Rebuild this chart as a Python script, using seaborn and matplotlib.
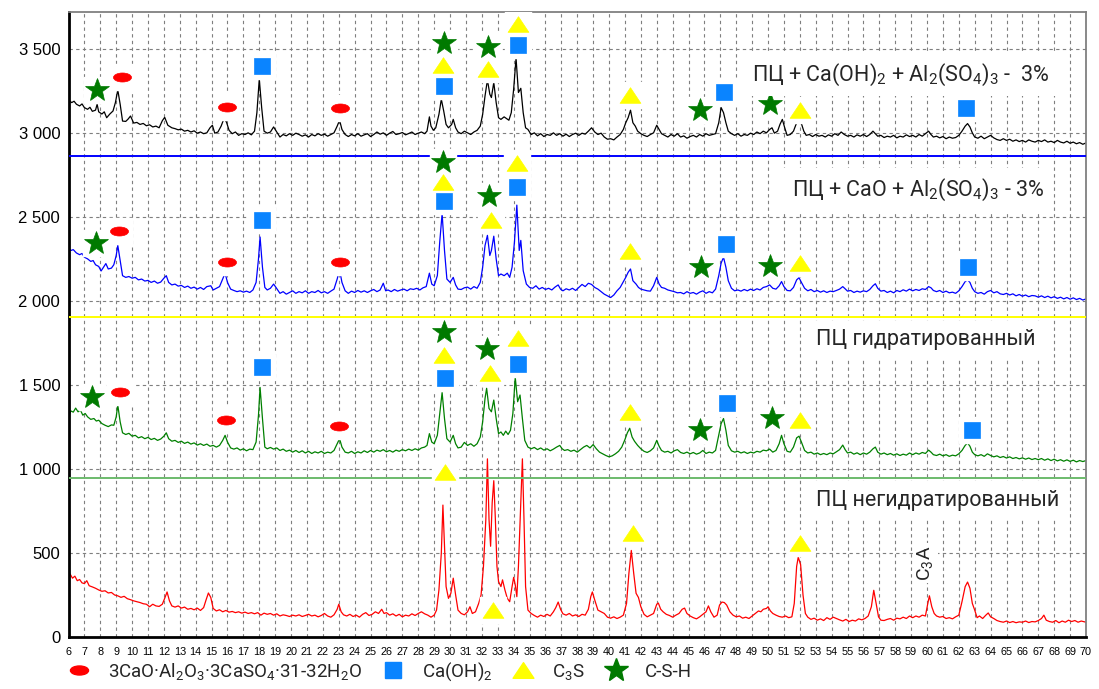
import matplotlib
matplotlib.use("Agg")
import matplotlib.pyplot as plt
import matplotlib.ticker as mticker
from matplotlib.lines import Line2D
from matplotlib.path import Path
from matplotlib.transforms import Affine2D
import pandas as pd
import seaborn as sns

sns.set_style("white")
plt.rcParams['font.family'] = ['Roboto', 'DejaVu Sans']
plt.rcParams['mathtext.fontset'] = 'custom'
plt.rcParams['mathtext.rm'] = 'Roboto'
plt.rcParams['mathtext.it'] = 'Roboto:italic'
plt.rcParams['mathtext.bf'] = 'Roboto:bold'

# Diffractograms: (2 theta, intensity)
BLACK_PTS = [
    (6.0, 3195), (6.2, 3180), (6.35, 3188), (6.5, 3170), (6.7, 3160), (6.85, 3172), (7.0, 3150), (7.2, 3140),
    (7.35, 3152), (7.5, 3128), (7.7, 3135), (7.8, 3170), (7.9, 3125), (8.1, 3112), (8.25, 3125), (8.4, 3090),
    (8.6, 3112), (8.8, 3130), (8.95, 3180), (9.1, 3255), (9.25, 3170), (9.4, 3070), (9.6, 3068), (9.75, 3082),
    (9.9, 3100), (10.1, 3058), (10.3, 3062), (10.5, 3050), (10.7, 3056), (10.9, 3042), (11.1, 3048), (11.3, 3035),
    (11.5, 3040), (11.7, 3030), (11.9, 3072), (12.05, 3092), (12.25, 3045), (12.5, 3030), (12.7, 3025), (12.9, 3018),
    (13.1, 3022), (13.3, 3010), (13.5, 3015), (13.7, 3005), (13.9, 3012), (14.1, 2998), (14.3, 3005), (14.5, 2995),
    (14.7, 3000), (14.9, 3030), (15.05, 3045), (15.2, 2998), (15.4, 3005), (15.6, 3040), (15.8, 3090), (15.95, 3060),
    (16.1, 3015), (16.3, 2995), (16.5, 3005), (16.7, 2985), (16.9, 2995), (17.1, 2990), (17.3, 3000), (17.5, 2988),
    (17.7, 3010), (17.85, 3120), (18.0, 3320), (18.15, 3150), (18.3, 3010), (18.5, 2998), (18.7, 3005), (18.9, 3035),
    (19.1, 3005), (19.3, 2975), (19.5, 2990), (19.7, 2982), (19.9, 2995), (20.1, 2985), (20.3, 2998), (20.5, 2990),
    (20.7, 2980), (20.9, 2988), (21.1, 2975), (21.3, 2990), (21.5, 2982), (21.7, 2995), (21.9, 2985), (22.1, 2992),
    (22.3, 2980), (22.5, 2990), (22.7, 3000), (22.9, 3040), (23.05, 3075), (23.2, 3020), (23.4, 2990), (23.6, 2978),
    (23.8, 2990), (24.0, 2982), (24.2, 2995), (24.4, 2980), (24.6, 2988), (24.8, 2995), (25.0, 2978), (25.2, 2990),
    (25.4, 3005), (25.6, 2992), (25.8, 3000), (26.0, 2985), (26.2, 2998), (26.4, 3008), (26.6, 2990), (26.8, 2995),
    (27.0, 3002), (27.2, 2988), (27.4, 2996), (27.6, 3005), (27.8, 2990), (28.0, 2998), (28.2, 3005), (28.4, 2995),
    (28.55, 3010), (28.7, 3095), (28.8, 3040), (28.95, 3015), (29.1, 3030), (29.3, 3110), (29.45, 3200), (29.6, 3130),
    (29.75, 3050), (29.9, 3030), (30.1, 3050), (30.2, 3080), (30.35, 3030), (30.5, 3005), (30.7, 2995), (30.9, 3010),
    (31.1, 3000), (31.3, 2990), (31.5, 3005), (31.7, 3015), (31.9, 3040), (32.05, 3110), (32.2, 3220), (32.35, 3315),
    (32.5, 3230), (32.6, 3210), (32.75, 3300), (32.9, 3180), (33.05, 3090), (33.2, 3080), (33.4, 3095), (33.55, 3085),
    (33.7, 3075), (33.85, 3120), (34.0, 3260), (34.15, 3445), (34.3, 3240), (34.45, 3265), (34.6, 3120), (34.75, 3030),
    (34.9, 3020), (35.1, 2990), (35.3, 3000), (35.5, 2982), (35.7, 2995), (35.9, 2978), (36.1, 2990), (36.3, 2985),
    (36.5, 3000), (36.7, 2985), (36.9, 2995), (37.1, 2980), (37.3, 2992), (37.5, 2978), (37.7, 2990), (37.9, 2998),
    (38.1, 2985), (38.3, 2998), (38.5, 2992), (38.7, 3010), (38.9, 3030), (39.1, 3005), (39.3, 2990), (39.5, 2998),
    (39.7, 2975), (39.9, 2962), (40.1, 2965), (40.3, 2958), (40.5, 2975), (40.7, 2990), (40.9, 3020), (41.05, 3060),
    (41.2, 3090), (41.35, 3135), (41.5, 3060), (41.65, 3040), (41.8, 3010), (42.0, 2995), (42.2, 2985), (42.4, 2978),
    (42.6, 2990), (42.8, 3000), (43.0, 3045), (43.15, 3020), (43.3, 2995), (43.5, 2985), (43.7, 2975), (43.9, 2990),
    (44.1, 2980), (44.3, 2995), (44.5, 2975), (44.7, 2982), (44.9, 2968), (45.1, 2978), (45.3, 2985), (45.5, 2975),
    (45.7, 2990), (45.9, 2980), (46.1, 2995), (46.3, 2985), (46.5, 2990), (46.7, 2995), (46.9, 3060), (47.05, 3150),
    (47.2, 3120), (47.35, 3060), (47.5, 3010), (47.7, 2995), (47.9, 2985), (48.1, 2995), (48.3, 2980), (48.5, 2990),
    (48.7, 2985), (48.9, 2998), (49.1, 2990), (49.3, 3005), (49.5, 2995), (49.7, 3010), (49.9, 3000), (50.1, 3020),
    (50.25, 3030), (50.4, 2998), (50.6, 3010), (50.75, 3050), (50.9, 3080), (51.05, 3030), (51.2, 2985), (51.4, 2990),
    (51.6, 3010), (51.8, 3060), (51.95, 3065), (52.1, 3055), (52.25, 3010), (52.4, 2985), (52.6, 2990), (52.8, 2978),
    (53.0, 2990), (53.2, 2980), (53.4, 2985), (53.6, 2975), (53.8, 2988), (54.0, 2980), (54.2, 2995), (54.4, 2985),
    (54.6, 3005), (54.8, 2990), (55.0, 2980), (55.2, 2985), (55.4, 2975), (55.6, 2988), (55.8, 2980), (56.0, 2990),
    (56.2, 2978), (56.4, 2990), (56.6, 3010), (56.75, 2995), (56.9, 2980), (57.1, 2985), (57.3, 2972), (57.5, 2980),
    (57.7, 2975), (57.9, 2985), (58.1, 2970), (58.3, 2980), (58.5, 2975), (58.7, 2988), (58.9, 2978), (59.1, 2985),
    (59.3, 2975), (59.5, 2990), (59.7, 2980), (59.9, 2995), (60.1, 3010), (60.25, 2990), (60.4, 2975), (60.6, 2980),
    (60.8, 2970), (61.0, 2978), (61.2, 2965), (61.4, 2975), (61.6, 2968), (61.8, 2972), (62.0, 2985), (62.2, 3010),
    (62.4, 3040), (62.55, 3055), (62.7, 3035), (62.85, 3000), (63.0, 2975), (63.2, 2968), (63.4, 2980), (63.6, 2965),
    (63.8, 2975), (64.0, 2985), (64.2, 2970), (64.4, 2960), (64.6, 2955), (64.8, 2965), (65.0, 2955), (65.2, 2962),
    (65.4, 2950), (65.6, 2958), (65.8, 2948), (66.0, 2955), (66.2, 2945), (66.4, 2958), (66.6, 2950), (66.8, 2945),
    (67.0, 2955), (67.2, 2948), (67.4, 2958), (67.6, 2945), (67.8, 2950), (68.0, 2942), (68.2, 2955), (68.4, 2945),
    (68.6, 2940), (68.8, 2950), (69.0, 2938), (69.2, 2945), (69.4, 2935), (69.6, 2942), (69.8, 2932), (70.0, 2940),
]

BLUE_PTS = [
    (6.0, 2315), (6.15, 2300), (6.3, 2305), (6.5, 2285), (6.7, 2275), (6.85, 2282), (7.0, 2260), (7.2, 2250),
    (7.4, 2235), (7.55, 2240), (7.7, 2215), (7.9, 2205), (8.05, 2178), (8.2, 2200), (8.35, 2222), (8.5, 2190),
    (8.7, 2195), (8.85, 2215), (9.0, 2270), (9.1, 2330), (9.25, 2240), (9.4, 2150), (9.6, 2140), (9.8, 2145),
    (10.0, 2135), (10.2, 2140), (10.4, 2125), (10.6, 2130), (10.8, 2118), (11.0, 2122), (11.2, 2110), (11.4, 2118),
    (11.6, 2105), (11.8, 2112), (12.0, 2135), (12.15, 2150), (12.3, 2110), (12.5, 2095), (12.7, 2100), (12.9, 2088),
    (13.1, 2092), (13.3, 2080), (13.5, 2088), (13.7, 2075), (13.9, 2082), (14.1, 2070), (14.3, 2080), (14.5, 2068),
    (14.7, 2085), (14.95, 2090), (15.1, 2065), (15.3, 2075), (15.5, 2085), (15.7, 2130), (15.85, 2165), (16.0, 2110),
    (16.2, 2070), (16.4, 2062), (16.6, 2055), (16.8, 2060), (17.0, 2052), (17.2, 2058), (17.4, 2050), (17.6, 2065),
    (17.8, 2110), (17.95, 2250), (18.05, 2380), (18.2, 2200), (18.35, 2080), (18.5, 2065), (18.7, 2075), (18.9, 2100),
    (19.05, 2080), (19.3, 2045), (19.5, 2055), (19.7, 2040), (19.9, 2050), (20.1, 2060), (20.3, 2045), (20.5, 2055),
    (20.7, 2048), (20.9, 2060), (21.1, 2045), (21.3, 2055), (21.5, 2050), (21.7, 2062), (21.9, 2048), (22.1, 2055),
    (22.3, 2045), (22.5, 2058), (22.7, 2070), (22.9, 2130), (23.05, 2185), (23.2, 2110), (23.4, 2060), (23.6, 2045),
    (23.8, 2058), (24.0, 2050), (24.2, 2062), (24.4, 2052), (24.6, 2060), (24.8, 2050), (25.0, 2060), (25.2, 2068),
    (25.4, 2055), (25.6, 2065), (25.8, 2105), (25.95, 2060), (26.1, 2065), (26.3, 2055), (26.5, 2068), (26.7, 2058),
    (26.9, 2065), (27.1, 2070), (27.3, 2060), (27.5, 2072), (27.7, 2068), (27.9, 2075), (28.1, 2065), (28.3, 2078),
    (28.5, 2085), (28.7, 2165), (28.85, 2100), (29.0, 2090), (29.2, 2150), (29.35, 2350), (29.5, 2520), (29.65, 2300),
    (29.8, 2130), (30.0, 2110), (30.2, 2140), (30.35, 2095), (30.5, 2070), (30.7, 2068), (30.9, 2078), (31.1, 2082),
    (31.3, 2070), (31.5, 2085), (31.7, 2075), (31.9, 2110), (32.05, 2200), (32.2, 2330), (32.35, 2390), (32.5, 2270),
    (32.6, 2300), (32.75, 2385), (32.9, 2250), (33.05, 2150), (33.2, 2160), (33.4, 2150), (33.6, 2165), (33.75, 2140),
    (33.9, 2200), (34.05, 2350), (34.2, 2570), (34.35, 2300), (34.45, 2360), (34.6, 2180), (34.8, 2100), (35.0, 2080),
    (35.2, 2075), (35.4, 2090), (35.6, 2070), (35.8, 2080), (36.0, 2068), (36.2, 2075), (36.4, 2065), (36.6, 2082),
    (36.8, 2095), (36.95, 2070), (37.1, 2060), (37.3, 2072), (37.5, 2065), (37.7, 2075), (37.9, 2062), (38.1, 2080),
    (38.3, 2098), (38.5, 2085), (38.7, 2105), (38.9, 2098), (39.1, 2080), (39.3, 2070), (39.5, 2055), (39.7, 2040),
    (39.9, 2030), (40.1, 2020), (40.3, 2035), (40.5, 2060), (40.7, 2080), (40.9, 2115), (41.05, 2140), (41.2, 2170),
    (41.35, 2190), (41.5, 2120), (41.7, 2100), (41.85, 2080), (42.0, 2070), (42.2, 2065), (42.4, 2060), (42.6, 2058),
    (42.8, 2090), (43.0, 2140), (43.15, 2100), (43.3, 2080), (43.5, 2075), (43.7, 2065), (43.9, 2060), (44.1, 2055),
    (44.3, 2048), (44.5, 2050), (44.7, 2042), (44.9, 2055), (45.1, 2045), (45.3, 2050), (45.5, 2040), (45.7, 2052),
    (45.9, 2060), (46.1, 2045), (46.3, 2055), (46.5, 2048), (46.7, 2070), (46.9, 2150), (47.05, 2225), (47.2, 2260),
    (47.35, 2200), (47.5, 2120), (47.7, 2075), (47.9, 2060), (48.1, 2065), (48.3, 2058), (48.5, 2068), (48.7, 2060),
    (48.9, 2070), (49.1, 2062), (49.3, 2072), (49.5, 2065), (49.7, 2080), (49.9, 2085), (50.1, 2095), (50.3, 2075),
    (50.5, 2070), (50.7, 2090), (50.85, 2115), (51.0, 2085), (51.2, 2062), (51.4, 2060), (51.6, 2080), (51.8, 2125),
    (51.95, 2138), (52.1, 2110), (52.3, 2075), (52.5, 2060), (52.7, 2068), (52.9, 2055), (53.1, 2062), (53.3, 2052),
    (53.5, 2060), (53.7, 2050), (53.9, 2058), (54.1, 2055), (54.3, 2062), (54.5, 2070), (54.7, 2085), (54.85, 2072),
    (55.0, 2058), (55.2, 2062), (55.4, 2050), (55.6, 2058), (55.8, 2052), (56.0, 2060), (56.2, 2055), (56.4, 2068),
    (56.6, 2090), (56.75, 2102), (56.9, 2075), (57.1, 2058), (57.3, 2062), (57.5, 2050), (57.7, 2058), (57.9, 2048),
    (58.1, 2062), (58.3, 2055), (58.5, 2066), (58.7, 2058), (58.9, 2070), (59.1, 2060), (59.3, 2068), (59.5, 2062),
    (59.7, 2072), (59.9, 2068), (60.1, 2085), (60.25, 2078), (60.4, 2062), (60.6, 2055), (60.8, 2062), (61.0, 2050),
    (61.2, 2058), (61.4, 2048), (61.6, 2052), (61.8, 2045), (62.0, 2060), (62.2, 2085), (62.4, 2115), (62.55, 2125),
    (62.7, 2110), (62.85, 2075), (63.0, 2055), (63.2, 2045), (63.4, 2050), (63.6, 2040), (63.8, 2055), (64.0, 2062),
    (64.2, 2048), (64.4, 2055), (64.6, 2042), (64.8, 2038), (65.0, 2045), (65.2, 2035), (65.4, 2042), (65.6, 2030),
    (65.8, 2038), (66.0, 2028), (66.2, 2035), (66.4, 2025), (66.6, 2032), (66.8, 2030), (67.0, 2022), (67.2, 2030),
    (67.4, 2020), (67.6, 2028), (67.8, 2018), (68.0, 2025), (68.2, 2015), (68.4, 2022), (68.6, 2012), (68.8, 2020),
    (69.0, 2010), (69.2, 2018), (69.4, 2008), (69.6, 2015), (69.8, 2005), (70.0, 2012),
]

GREEN_PTS = [
    (6.0, 1310), (6.15, 1345), (6.3, 1338), (6.45, 1362), (6.6, 1340), (6.75, 1350), (6.9, 1320), (7.05, 1330),
    (7.2, 1310), (7.4, 1295), (7.6, 1300), (7.75, 1285), (7.9, 1290), (8.1, 1270), (8.3, 1260), (8.5, 1252),
    (8.7, 1262), (8.85, 1260), (9.0, 1310), (9.1, 1380), (9.25, 1280), (9.4, 1215), (9.6, 1205), (9.8, 1212),
    (10.0, 1195), (10.2, 1200), (10.4, 1185), (10.6, 1192), (10.8, 1180), (11.0, 1188), (11.2, 1175), (11.4, 1182),
    (11.6, 1170), (11.8, 1178), (12.0, 1195), (12.15, 1215), (12.3, 1180), (12.5, 1165), (12.7, 1170), (12.9, 1158),
    (13.1, 1165), (13.3, 1152), (13.5, 1160), (13.7, 1148), (13.9, 1155), (14.1, 1142), (14.3, 1150), (14.5, 1140),
    (14.7, 1148), (14.9, 1135), (15.1, 1140), (15.3, 1130), (15.5, 1140), (15.7, 1170), (15.85, 1200), (16.0, 1160),
    (16.2, 1125), (16.4, 1118), (16.6, 1125), (16.8, 1112), (17.0, 1120), (17.2, 1108), (17.4, 1118), (17.6, 1115),
    (17.8, 1160), (17.95, 1320), (18.05, 1485), (18.2, 1300), (18.35, 1130), (18.5, 1120), (18.7, 1128), (18.9, 1118),
    (19.1, 1125), (19.3, 1110), (19.5, 1118), (19.7, 1105), (19.9, 1112), (20.1, 1100), (20.3, 1110), (20.5, 1098),
    (20.7, 1108), (20.9, 1095), (21.1, 1105), (21.3, 1092), (21.5, 1102), (21.7, 1095), (21.9, 1105), (22.1, 1092),
    (22.3, 1100), (22.5, 1095), (22.7, 1110), (22.9, 1150), (23.05, 1180), (23.2, 1130), (23.4, 1100), (23.6, 1095),
    (23.8, 1105), (24.0, 1092), (24.2, 1102), (24.4, 1095), (24.6, 1108), (24.8, 1098), (25.0, 1110), (25.2, 1100),
    (25.4, 1112), (25.6, 1105), (25.8, 1115), (26.0, 1102), (26.2, 1110), (26.4, 1100), (26.6, 1112), (26.8, 1105),
    (27.0, 1115), (27.2, 1108), (27.4, 1118), (27.6, 1110), (27.8, 1120), (28.0, 1112), (28.2, 1125), (28.4, 1130),
    (28.55, 1140), (28.7, 1210), (28.85, 1160), (29.0, 1150), (29.2, 1200), (29.35, 1330), (29.5, 1455), (29.65, 1300),
    (29.8, 1180), (30.0, 1160), (30.2, 1200), (30.35, 1150), (30.5, 1125), (30.7, 1130), (30.9, 1158), (31.1, 1140),
    (31.3, 1150), (31.5, 1135), (31.7, 1150), (31.9, 1190), (32.05, 1280), (32.2, 1420), (32.3, 1480), (32.45, 1360),
    (32.6, 1340), (32.75, 1410), (32.9, 1300), (33.05, 1210), (33.2, 1220), (33.35, 1200), (33.5, 1225), (33.65, 1205),
    (33.8, 1230), (33.95, 1330), (34.1, 1545), (34.25, 1400), (34.4, 1440), (34.55, 1300), (34.7, 1170), (34.9, 1130),
    (35.1, 1120), (35.3, 1128), (35.5, 1115), (35.7, 1125), (35.9, 1112), (36.1, 1120), (36.3, 1108), (36.5, 1118),
    (36.7, 1130), (36.9, 1140), (37.05, 1120), (37.2, 1110), (37.4, 1115), (37.6, 1105), (37.8, 1112), (38.0, 1100),
    (38.2, 1115), (38.4, 1130), (38.6, 1140), (38.8, 1125), (39.0, 1145), (39.2, 1120), (39.4, 1100), (39.6, 1090),
    (39.8, 1080), (40.0, 1072), (40.2, 1078), (40.4, 1090), (40.6, 1105), (40.8, 1130), (41.0, 1175), (41.15, 1215),
    (41.3, 1242), (41.45, 1190), (41.6, 1165), (41.8, 1140), (42.0, 1120), (42.2, 1105), (42.4, 1098), (42.6, 1108),
    (42.8, 1125), (43.0, 1170), (43.15, 1135), (43.3, 1110), (43.5, 1100), (43.7, 1105), (43.9, 1095), (44.1, 1108),
    (44.3, 1115), (44.5, 1098), (44.7, 1092), (44.9, 1100), (45.1, 1090), (45.3, 1098), (45.5, 1088), (45.7, 1095),
    (45.9, 1110), (46.1, 1092), (46.3, 1100), (46.5, 1095), (46.7, 1110), (46.9, 1200), (47.05, 1270), (47.2, 1300),
    (47.35, 1230), (47.5, 1140), (47.7, 1108), (47.9, 1100), (48.1, 1105), (48.3, 1095), (48.5, 1102), (48.7, 1092),
    (48.9, 1100), (49.1, 1095), (49.3, 1105), (49.5, 1100), (49.7, 1112), (49.9, 1108), (50.1, 1118), (50.3, 1100),
    (50.5, 1110), (50.7, 1150), (50.85, 1200), (51.0, 1150), (51.2, 1105), (51.4, 1100), (51.6, 1130), (51.8, 1185),
    (51.95, 1195), (52.1, 1160), (52.3, 1110), (52.5, 1095), (52.7, 1100), (52.9, 1088), (53.1, 1095), (53.3, 1085),
    (53.5, 1092), (53.7, 1085), (53.9, 1095), (54.1, 1090), (54.3, 1102), (54.5, 1115), (54.7, 1142), (54.85, 1115),
    (55.0, 1095), (55.2, 1100), (55.4, 1088), (55.6, 1096), (55.8, 1085), (56.0, 1095), (56.2, 1088), (56.4, 1100),
    (56.6, 1120), (56.75, 1130), (56.9, 1100), (57.1, 1088), (57.3, 1095), (57.5, 1085), (57.7, 1092), (57.9, 1082),
    (58.1, 1090), (58.3, 1080), (58.5, 1088), (58.7, 1082), (58.9, 1095), (59.1, 1085), (59.3, 1095), (59.5, 1088),
    (59.7, 1098), (59.9, 1092), (60.1, 1112), (60.25, 1100), (60.4, 1085), (60.6, 1080), (60.8, 1088), (61.0, 1078),
    (61.2, 1085), (61.4, 1075), (61.6, 1082), (61.8, 1078), (62.0, 1090), (62.2, 1110), (62.4, 1140), (62.55, 1155),
    (62.7, 1135), (62.85, 1100), (63.0, 1085), (63.2, 1078), (63.4, 1085), (63.6, 1075), (63.8, 1090), (64.0, 1080),
    (64.2, 1072), (64.4, 1078), (64.6, 1068), (64.8, 1074), (65.0, 1065), (65.2, 1072), (65.4, 1062), (65.6, 1068),
    (65.8, 1060), (66.0, 1066), (66.2, 1058), (66.4, 1065), (66.6, 1056), (66.8, 1062), (67.0, 1055), (67.2, 1062),
    (67.4, 1052), (67.6, 1060), (67.8, 1050), (68.0, 1058), (68.2, 1048), (68.4, 1055), (68.6, 1046), (68.8, 1054),
    (69.0, 1045), (69.2, 1052), (69.4, 1042), (69.6, 1050), (69.8, 1044), (70.0, 1050),
]

RED_PTS = [
    (6.0, 360), (6.1, 375), (6.25, 350), (6.4, 362), (6.55, 335), (6.7, 342), (6.85, 322), (7.0, 318),
    (7.15, 335), (7.3, 305), (7.5, 298), (7.7, 290), (7.9, 280), (8.1, 272), (8.3, 275), (8.5, 262),
    (8.7, 265), (8.9, 250), (9.1, 245), (9.3, 236), (9.5, 242), (9.7, 228), (9.9, 222), (10.1, 215),
    (10.3, 210), (10.5, 205), (10.7, 198), (10.9, 195), (11.1, 180), (11.3, 195), (11.5, 185), (11.7, 182),
    (11.9, 195), (12.05, 230), (12.2, 268), (12.35, 215), (12.5, 185), (12.7, 178), (12.9, 185), (13.1, 172),
    (13.3, 178), (13.5, 165), (13.7, 170), (13.9, 162), (14.1, 172), (14.3, 158), (14.5, 175), (14.65, 220),
    (14.8, 262), (14.95, 235), (15.1, 170), (15.3, 155), (15.5, 162), (15.7, 150), (15.9, 158), (16.1, 148),
    (16.3, 152), (16.5, 145), (16.7, 150), (16.9, 142), (17.1, 148), (17.3, 140), (17.5, 145), (17.7, 138),
    (17.9, 145), (18.1, 130), (18.3, 142), (18.5, 135), (18.7, 140), (18.9, 130), (19.1, 138), (19.3, 125),
    (19.5, 132), (19.7, 128), (19.9, 122), (20.1, 130), (20.3, 125), (20.5, 132), (20.7, 122), (20.9, 128),
    (21.1, 135), (21.3, 125), (21.5, 130), (21.7, 120), (21.9, 128), (22.1, 140), (22.3, 125), (22.5, 118),
    (22.7, 132), (22.9, 165), (23.0, 195), (23.15, 150), (23.3, 132), (23.5, 125), (23.7, 135), (23.9, 122),
    (24.1, 130), (24.3, 118), (24.5, 135), (24.7, 145), (24.9, 128), (25.1, 135), (25.3, 150), (25.5, 140),
    (25.7, 165), (25.85, 140), (26.0, 145), (26.2, 130), (26.4, 138), (26.6, 125), (26.8, 135), (27.0, 120),
    (27.2, 130), (27.4, 125), (27.6, 138), (27.8, 128), (28.0, 140), (28.2, 150), (28.4, 138), (28.6, 130),
    (28.8, 118), (29.0, 130), (29.15, 160), (29.3, 280), (29.45, 500), (29.55, 785), (29.65, 540), (29.75, 300),
    (29.9, 230), (30.05, 260), (30.2, 350), (30.35, 250), (30.5, 160), (30.7, 140), (30.9, 132), (31.1, 150),
    (31.25, 180), (31.4, 140), (31.6, 150), (31.8, 200), (31.95, 250), (32.1, 420), (32.25, 700), (32.35, 1060),
    (32.45, 700), (32.55, 540), (32.65, 800), (32.75, 930), (32.85, 700), (32.95, 420), (33.05, 330), (33.2, 300),
    (33.3, 340), (33.45, 280), (33.6, 230), (33.75, 210), (33.9, 300), (34.0, 355), (34.1, 310), (34.2, 240),
    (34.3, 420), (34.45, 800), (34.55, 1060), (34.65, 700), (34.75, 300), (34.9, 160), (35.1, 140), (35.3, 128),
    (35.5, 118), (35.7, 130), (35.9, 122), (36.1, 135), (36.3, 125), (36.5, 150), (36.65, 175), (36.8, 208),
    (36.95, 165), (37.1, 138), (37.3, 130), (37.5, 140), (37.7, 125), (37.9, 132), (38.1, 122), (38.3, 135),
    (38.5, 130), (38.7, 165), (38.85, 240), (38.95, 268), (39.1, 220), (39.3, 160), (39.5, 150), (39.7, 140),
    (39.9, 118), (40.1, 112), (40.3, 120), (40.5, 110), (40.7, 118), (40.9, 130), (41.1, 200), (41.25, 380),
    (41.4, 515), (41.55, 380), (41.7, 260), (41.85, 235), (42.0, 180), (42.2, 135), (42.4, 120), (42.6, 130),
    (42.8, 140), (43.0, 195), (43.1, 202), (43.25, 165), (43.4, 150), (43.6, 135), (43.8, 128), (44.0, 118),
    (44.2, 130), (44.4, 140), (44.6, 165), (44.75, 172), (44.9, 140), (45.1, 125), (45.3, 115), (45.5, 108),
    (45.7, 120), (45.9, 135), (46.1, 150), (46.25, 185), (46.4, 150), (46.6, 118), (46.8, 130), (46.95, 190),
    (47.1, 208), (47.25, 205), (47.4, 190), (47.6, 150), (47.8, 130), (48.0, 120), (48.2, 125), (48.4, 112),
    (48.6, 118), (48.8, 110), (49.0, 125), (49.2, 140), (49.4, 155), (49.55, 150), (49.7, 165), (49.9, 170),
    (50.0, 180), (50.15, 155), (50.3, 140), (50.5, 130), (50.7, 122), (50.9, 118), (51.1, 125), (51.3, 115),
    (51.5, 120), (51.65, 200), (51.8, 420), (51.9, 475), (52.05, 430), (52.2, 250), (52.35, 140), (52.5, 118),
    (52.7, 105), (52.9, 112), (53.1, 100), (53.3, 108), (53.5, 98), (53.7, 115), (53.9, 105), (54.1, 118),
    (54.3, 110), (54.5, 102), (54.7, 95), (54.9, 105), (55.1, 92), (55.3, 100), (55.5, 95), (55.7, 108),
    (55.9, 102), (56.1, 110), (56.3, 125), (56.5, 180), (56.65, 278), (56.8, 200), (56.95, 120), (57.1, 100),
    (57.3, 98), (57.5, 105), (57.7, 110), (57.9, 100), (58.1, 112), (58.3, 108), (58.5, 118), (58.7, 110),
    (58.9, 125), (59.1, 115), (59.3, 125), (59.5, 118), (59.7, 130), (59.9, 125), (60.05, 200), (60.15, 245),
    (60.3, 180), (60.45, 140), (60.6, 125), (60.8, 118), (61.0, 122), (61.2, 110), (61.4, 115), (61.6, 108),
    (61.8, 120), (62.0, 130), (62.2, 210), (62.4, 300), (62.55, 327), (62.7, 290), (62.85, 200), (63.0, 160),
    (63.15, 115), (63.3, 125), (63.5, 110), (63.7, 130), (63.85, 143), (64.0, 120), (64.2, 110), (64.4, 98),
    (64.6, 92), (64.8, 88), (65.0, 95), (65.2, 86), (65.4, 92), (65.6, 85), (65.8, 90), (66.0, 88),
    (66.2, 95), (66.4, 86), (66.6, 92), (66.8, 90), (67.0, 98), (67.2, 110), (67.35, 130), (67.5, 100),
    (67.7, 92), (67.9, 88), (68.1, 98), (68.3, 85), (68.5, 95), (68.7, 88), (68.9, 100), (69.1, 92),
    (69.3, 98), (69.5, 88), (69.7, 95), (69.9, 90), (70.0, 88),
]

SAMPLES = ["PC+Ca(OH)2+Al2(SO4)3", "PC+CaO+Al2(SO4)3", "PC hydrated", "PC unhydrated"]
SERIES_COLORS = ["#000000", "#0000FF", "#008000", "#FF0000"]

# Separator lines between the diffractograms
SEPARATORS = [2863, 1906, 948]
SEPARATOR_COLORS = ["#0000FF", "#FFFF00", "#6DBB6D"]

# Phase markers (2 theta, intensity)
ETTRINGITE_MARKS = [(9.36, 3333), (15.97, 3155), (23.07, 3149), (9.18, 2417), (15.97, 2232), (23.07, 2232),
                    (9.24, 1458), (15.9, 1292), (23.0, 1256)]
PORTLANDITE_MARKS = [(18.17, 3399), (29.6, 3280), (34.27, 3524), (47.2, 3244), (62.45, 3149),
                     (18.2, 2482), (29.6, 2595), (34.2, 2678), (47.35, 2339), (62.6, 2202),
                     (18.17, 1607), (29.67, 1542), (34.27, 1625), (47.4, 1393), (62.86, 1232)]
C3S_MARKS = [(29.55, 3405), (32.38, 3381), (34.27, 3649), (41.32, 3226), (52.0, 3137),
             (29.55, 2708), (32.6, 2482), (34.2, 2821), (41.32, 2297), (52.0, 2226),
             (29.6, 1678), (32.5, 1571), (34.27, 1780), (41.32, 1339), (52.0, 1292),
             (29.67, 982), (32.7, 161), (41.5, 619), (52.0, 560)]
CSH_MARKS = [(7.79, 3256), (29.6, 3536), (32.38, 3512), (45.7, 3137), (50.1, 3173),
             (7.73, 2345), (29.55, 2827), (32.45, 2625), (45.8, 2202), (50.1, 2208),
             (7.48, 1428), (29.6, 1815), (32.3, 1714), (45.7, 1232), (50.25, 1303)]

LEGEND_LABELS = ["3CaO·Al$_2$O$_3$·3CaSO$_4$·31-32H$_2$O", "Ca(OH)$_2$", "C$_3$S", "C-S-H"]

ELLIPSE = Path.unit_circle().transformed(Affine2D().scale(1.0, 0.5))
TRIANGLE = Path([(0, 0.75), (-1, -0.75), (1, -0.75), (0, 0.75)], closed=True)
MARK_STYLES = [
    (ETTRINGITE_MARKS, ELLIPSE, "#FF0000", 13),
    (PORTLANDITE_MARKS, "s", "#0A84FF", 11.5),
    (C3S_MARKS, TRIANGLE, "#FFFF00", 15),
    (CSH_MARKS, "*", "#007A00", 18),
]

frames = []
for name, pts in zip(SAMPLES, [BLACK_PTS, BLUE_PTS, GREEN_PTS, RED_PTS]):
    part = pd.DataFrame(pts, columns=["angle", "intensity"])
    part["sample"] = name
    frames.append(part)
df = pd.concat(frames, ignore_index=True)

fig = plt.figure(figsize=(10.99, 6.89), dpi=100)
ax = fig.add_axes([68.5 / 1099, 52 / 689, (1086 - 68.5) / 1099, (637 - 11.5) / 689])

sns.lineplot(data=df, x="angle", y="intensity", hue="sample", palette=SERIES_COLORS,
             sort=False, estimator=None, linewidth=0.9, legend=False, ax=ax, zorder=2)

for level, col in zip(SEPARATORS, SEPARATOR_COLORS):
    ax.axhline(level, color=col, linewidth=1.4, zorder=3)

# white boxes behind the markers, then the markers
for marks, shape, col, size in MARK_STYLES:
    mx = [m[0] for m in marks]
    my = [m[1] for m in marks]
    ax.plot(mx, my, linestyle="none", marker="s", markersize=19, color="white", zorder=4)
for marks, shape, col, size in MARK_STYLES:
    mx = [m[0] for m in marks]
    my = [m[1] for m in marks]
    ax.plot(mx, my, linestyle="none", marker=shape, markersize=size, markerfacecolor=col,
            markeredgecolor=col, markeredgewidth=0.5, zorder=5)

# axes
ax.set_xlim(6, 70)
ax.set_ylim(0, 3722)
ax.set_xticks(range(6, 71))
ax.set_yticks(range(0, 3501, 500))
ax.yaxis.set_major_formatter(mticker.FuncFormatter(lambda v, p: f"{int(v):,}".replace(",", " ")))
ax.grid(True, color="#7F7F7F", linestyle=(0, (3, 3)), linewidth=0.8)
ax.set_axisbelow(True)
ax.set_xlabel("")
ax.set_ylabel("")
for lab in ax.get_xticklabels():
    lab.set_fontfamily("Liberation Sans")
    lab.set_fontsize(7.8)
for lab in ax.get_yticklabels():
    lab.set_fontfamily("Liberation Sans")
    lab.set_fontsize(12)
ax.tick_params(axis="x", length=3, width=0.8, pad=4, colors="black")
ax.tick_params(axis="y", length=0, pad=6, colors="black")
for side in ["left", "bottom"]:
    ax.spines[side].set_color("black")
    ax.spines[side].set_linewidth(2)
for side in ["top", "right"]:
    ax.spines[side].set_color("#808080")
    ax.spines[side].set_linewidth(1.3)

# sample labels
box = dict(facecolor="white", edgecolor="none", pad=6)
ax.text(49.0, 3345, "ПЦ + Ca(OH)$_2$ + Al$_2$(SO$_4$)$_3$ -  3%", fontsize=15.5, va="center", ha="left",
        bbox=box, zorder=6)
ax.text(51.5, 2661, "ПЦ + CaO + Al$_2$(SO$_4$)$_3$ - 3%", fontsize=15.5, va="center", ha="left",
        bbox=box, zorder=6)
ax.text(53.0, 1768, "ПЦ гидратированный", fontsize=15.5, va="center", ha="left", bbox=box, zorder=6)
ax.text(53.0, 815, "ПЦ негидратированный", fontsize=15.5, va="center", ha="left", bbox=box, zorder=6)
ax.text(59.9, 440, "C$_3$A", fontsize=14, rotation=90, va="center", ha="center",
        bbox=dict(facecolor="white", edgecolor="none", pad=2), zorder=6)

# legend below the axes
handles = [Line2D([], [], linestyle="none", marker=shape, markersize=size, markerfacecolor=col,
                  markeredgecolor=col) for marks, shape, col, size in MARK_STYLES]
fig.legend(handles, LEGEND_LABELS, loc="center left", bbox_to_anchor=(0.052, 0.025), ncol=4,
           frameon=False, prop={"family": "Roboto", "size": 13.5}, handletextpad=0.8,
           columnspacing=0.9, borderaxespad=0, handlelength=1.5)

fig.savefig("out.png", dpi=100)
